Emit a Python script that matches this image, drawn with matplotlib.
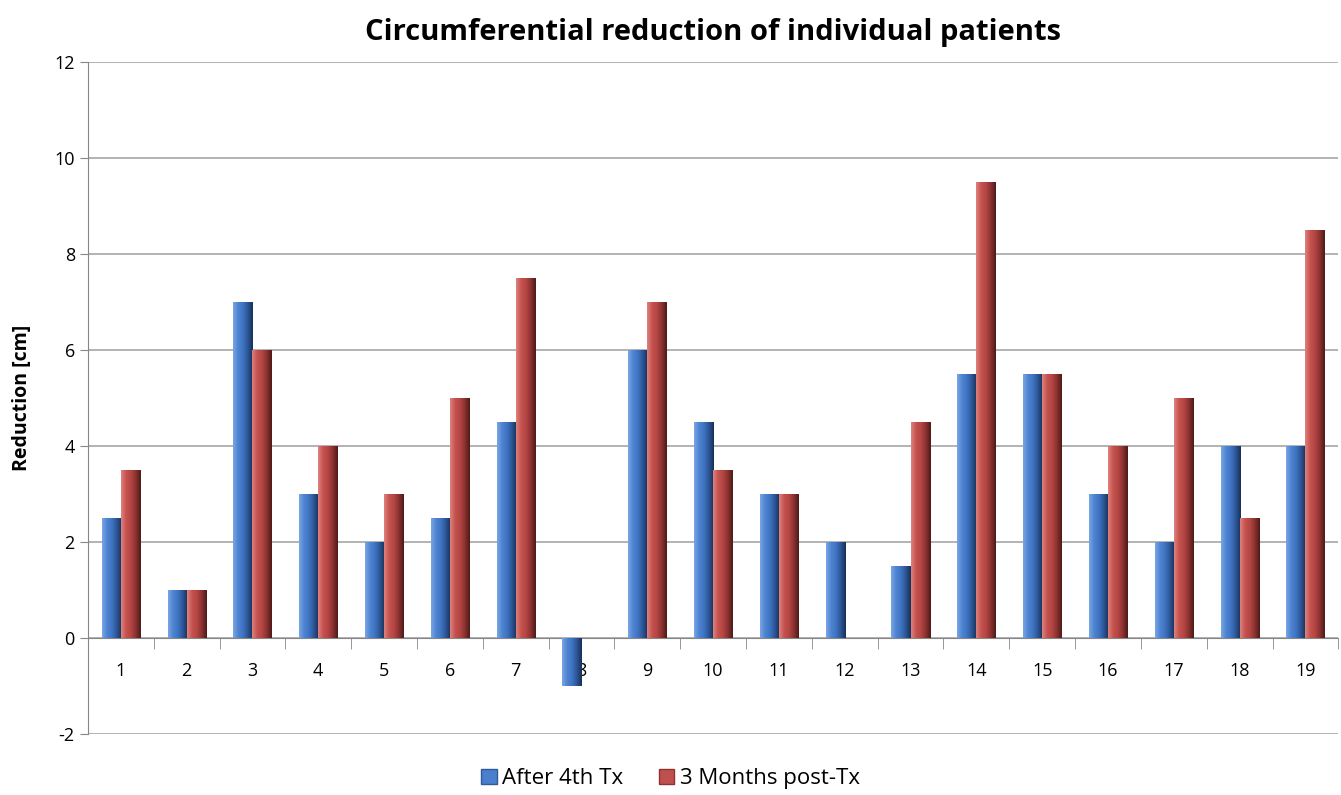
import numpy as np
import matplotlib.pyplot as plt
from matplotlib.colors import LinearSegmentedColormap
from matplotlib.patches import Patch

patients = [str(i) for i in range(1, 20)]
after_4th = [2.5, 1, 7, 3, 2, 2.5, 4.5, -1, 6, 4.5, 3, 2, 1.5, 5.5, 5.5, 3, 2, 4, 4]
months_3 = [3.5, 1, 6, 4, 3, 5, 7.5, 0, 7, 3.5, 3, 0, 4.5, 9.5, 5.5, 4, 5, 2.5, 8.5]

plt.rcParams['font.family'] = ['Open Sans', 'DejaVu Sans']
plt.rcParams['axes.unicode_minus'] = False

fig = plt.figure(figsize=(13.41, 7.95), dpi=100)
ax = fig.add_axes([0.0656, 0.0767, 0.9324, 0.8453])

x = np.arange(len(patients))
w = 0.29

blue_cmap = LinearSegmentedColormap.from_list('b', ['#7aa6e4', '#4f84d2', '#3f74c2', '#2c5596', '#182f55'])
red_cmap = LinearSegmentedColormap.from_list('r', ['#dc8380', '#c6524f', '#b44643', '#8a3230', '#4e1a18'])

bars1 = ax.bar(x - w / 2, after_4th, w, color='#4f81bd', zorder=3)
bars2 = ax.bar(x + w / 2, months_3, w, color='#c0504d', zorder=3)

# fake the bevelled look with a horizontal gradient clipped to each bar
grad = np.linspace(0, 1, 64).reshape(1, -1)
for bars, cmap in ((bars1, blue_cmap), (bars2, red_cmap)):
    for b in bars:
        if b.get_height() == 0:
            continue
        x0, y0 = b.get_x(), b.get_y()
        x1, y1 = x0 + b.get_width(), y0 + b.get_height()
        im = ax.imshow(grad, cmap=cmap, aspect='auto', extent=[x0, x1, min(y0, y1), max(y0, y1)],
                       zorder=4, interpolation='bicubic')
        im.set_clip_path(b)

ax.set_xlim(-0.5, len(patients) - 0.5)
ax.set_ylim(-2, 12)
ax.set_yticks(np.arange(-2, 13, 2))
ax.yaxis.grid(True, color='#a6a6a6', linewidth=1.2, zorder=0)
ax.set_axisbelow(True)

ax.spines['top'].set_visible(False)
ax.spines['right'].set_visible(False)
ax.spines['left'].set_color('#868686')
ax.spines['bottom'].set_position(('data', 0))
ax.spines['bottom'].set_color('#868686')

ax.set_xticks(x)
ax.set_xticklabels(patients, fontsize=13)
ax.set_xticks(np.arange(-0.5, len(patients), 1), minor=True)
ax.tick_params(axis='x', which='major', length=0, pad=17)
ax.tick_params(axis='x', which='minor', length=8, color='#868686')
ax.tick_params(axis='y', length=6, color='#868686', labelsize=13)

ax.set_ylabel('Reduction [cm]', fontsize=14, fontweight='bold', labelpad=16)
ax.set_title('Circumferential reduction of individual patients', fontsize=21, fontweight='bold', pad=16)

handles = [Patch(facecolor='#4a7fcf', edgecolor='#2f5b96'), Patch(facecolor='#c0504d', edgecolor='#8c3432')]
fig.legend(handles, ['After 4th Tx', '3 Months post-Tx'], loc='lower center', ncol=2,
           frameon=False, fontsize=16, bbox_to_anchor=(0.5, -0.018), handlelength=0.7,
           handleheight=0.7, handletextpad=0.25, columnspacing=1.6)

fig.savefig('out.png', dpi=100)
